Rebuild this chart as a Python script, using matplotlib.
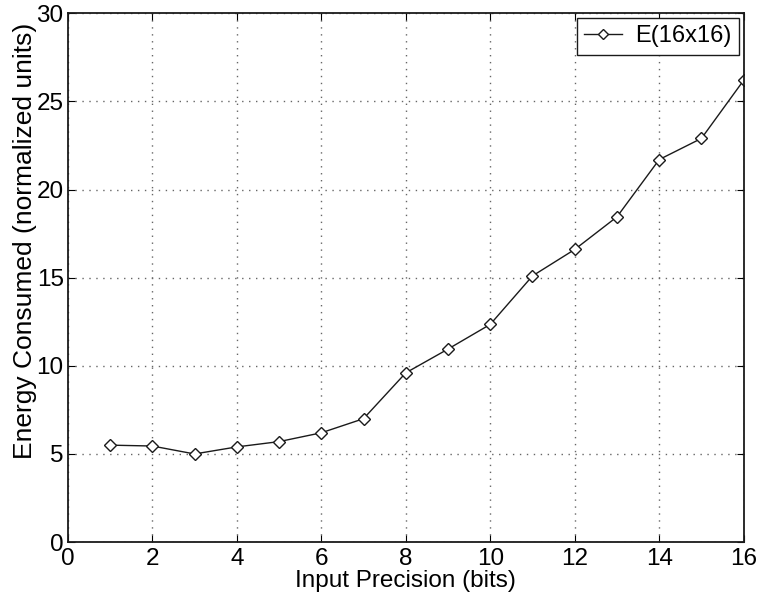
import matplotlib
matplotlib.use('Agg')
import matplotlib.pyplot as plt

# precision en bits y energia consumida
bits = [1, 2, 3, 4, 5, 6, 7, 8, 9, 10, 11, 12, 13, 14, 15, 16]
energia = [5.5, 5.45, 5.0, 5.4, 5.7, 6.2, 7.0, 9.6, 10.95, 12.35, 15.1, 16.6, 18.45, 21.7, 22.9, 26.2]
xticks = [0, 2, 4, 6, 8, 10, 12, 14, 16]
yticks = [0, 5, 10, 15, 20, 25, 30]

plt.rcParams['font.family'] = ['Liberation Sans', 'DejaVu Sans']

fig = plt.figure(figsize=(7.62, 6.01), dpi=100)
ax = fig.add_axes([0.089, 0.098, 0.887, 0.88])

ax.plot(bits, energia, color='#1a1a1a', lw=1.0, marker='D', markersize=6.5,
        markerfacecolor='white', markeredgecolor='#1a1a1a', markeredgewidth=1.0,
        label='E(16x16)')

ax.set_xlim(0, 16)
ax.set_ylim(0, 30)
ax.set_xticks(xticks)
ax.set_yticks(yticks)
ax.tick_params(direction='in', top=True, right=True, labelsize=17.5, length=5)
ax.tick_params(axis='x', pad=4)
ax.tick_params(axis='y', pad=3)
ax.grid(True, linestyle=(0, (1, 4)), color='#666666', linewidth=1.0)
for s in ax.spines.values():
    s.set_linewidth(1.3)
    s.set_color('#1a1a1a')

ax.set_xlabel('Input Precision (bits)', fontsize=17.5, labelpad=0)
ax.set_ylabel('Energy Consumed (normalized units)', fontsize=19)
ax.yaxis.set_label_coords(-0.046, 0.57)

leg = ax.legend(loc='upper right', fontsize=17, fancybox=False, framealpha=1,
                edgecolor='#1a1a1a', handlelength=1.6, handletextpad=0.55,
                borderpad=0.32, borderaxespad=0.2, markerscale=0.8)
leg.get_frame().set_linewidth(1.0)

plt.savefig('out.png', dpi=100)
